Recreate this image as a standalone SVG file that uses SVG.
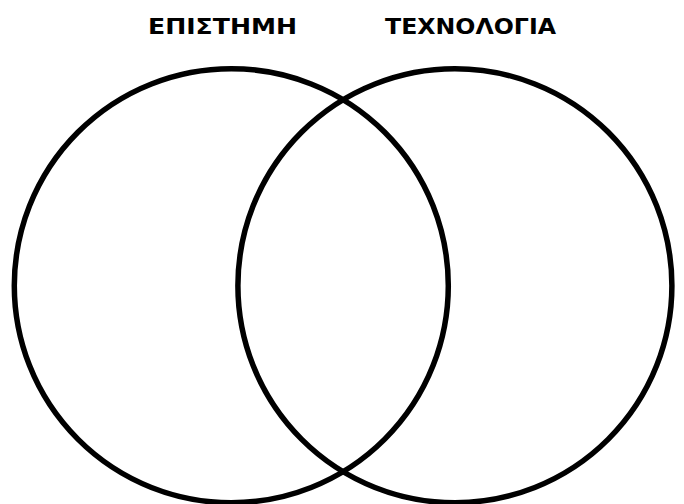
<svg xmlns="http://www.w3.org/2000/svg" width="684" height="504" viewBox="0 0 684 504">
<style>
.c{fill:none;stroke:#000;stroke-width:5.5}
.t{font-family:"DejaVu Sans","Liberation Sans",sans-serif;font-stretch:condensed;font-weight:bold;font-size:22px;fill:#000;text-anchor:middle}
</style>
<rect width="684" height="504" fill="#fff"/>
<g id="science">
<circle class="c" cx="231.3" cy="285.7" r="217"/>
<text class="t" x="222.5" y="33.5" textLength="149" lengthAdjust="spacingAndGlyphs">ΕΠΙΣΤΗΜΗ</text>
</g>
<g id="technology">
<circle class="c" cx="454.9" cy="285.7" r="217"/>
<text class="t" x="470.5" y="33.5" textLength="171" lengthAdjust="spacingAndGlyphs">ΤΕΧΝΟΛΟΓΙΑ</text>
</g>
<g id="connectors"></g>
</svg>
